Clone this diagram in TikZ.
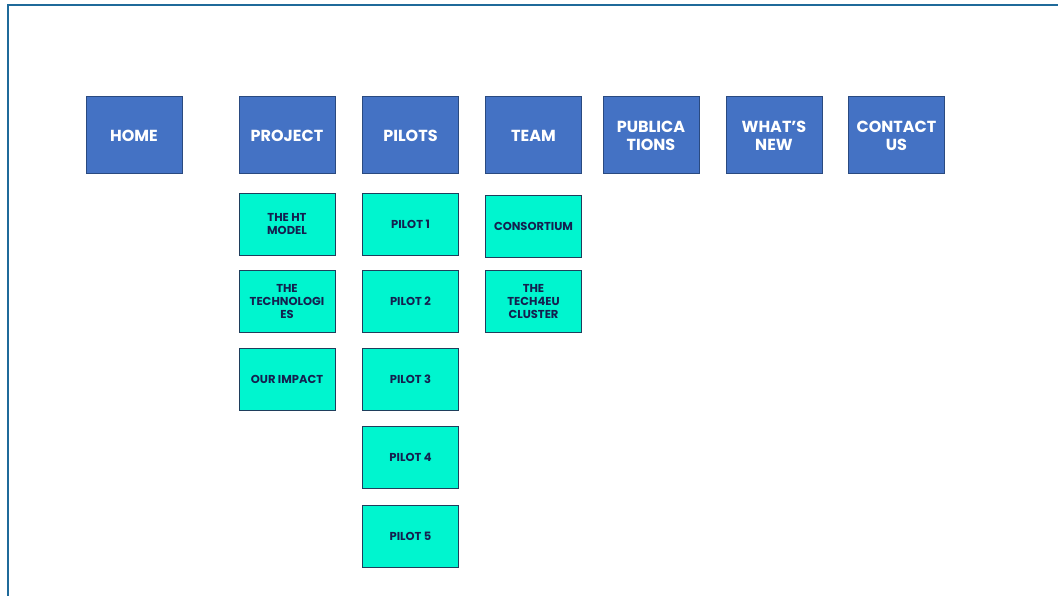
\documentclass[tikz,border=0pt]{standalone}
\usepackage{fontspec}
\setmainfont{Poppins}
\definecolor{menublue}{HTML}{4472C4}
\definecolor{menuedge}{HTML}{2A4A80}
\definecolor{subgreen}{HTML}{00F5CF}
\definecolor{subedge}{HTML}{1F3E5C}
\definecolor{subtext}{HTML}{14204F}
\definecolor{frameblue}{HTML}{1F6A9A}
\begin{document}
\begin{tikzpicture}[x=1pt,y=-1pt,
 menu/.style={draw=menuedge,fill=menublue,line width=1pt,minimum width=96pt,minimum height=77pt,
  inner sep=0pt,align=center,text=white,font=\fontsize{16}{18}\selectfont\bfseries},
 sub/.style={draw=subedge,fill=subgreen,line width=0.9pt,minimum width=96pt,minimum height=62pt,
  inner sep=0pt,align=center,text=subtext,font=\fontsize{11.5}{13}\selectfont\bfseries}]
 \useasboundingbox (0,0) rectangle (1058,596);
 \draw[frameblue,line width=2pt] (1070,5)--(8,5)--(8,610);
 % top menu
 \foreach \x/\lab/\nm in {134/HOME/home, 287/PROJECT/project, 410.5/PILOTS/pilots, 533.5/TEAM/team,
  651/PUBLICA\\TIONS/publ, 774/WHAT’S\\NEW/news, 896.5/CONTACT\\US/contact}
 \node[menu] (\nm) at (\x,135.5) {\lab};
 % project pages
 \foreach \y/\lab/\i in {224/THE HT\\MODEL/1, 301.5/THE\\TECHNOLOGI\\ES/2, 379.5/OUR IMPACT/3}
 \node[sub] (proj\i) at (287,\y) {\lab};
 % pilots
 \foreach \y/\i in {224/1, 301.5/2, 379.5/3, 457.5/4, 536.5/5}
 \node[sub] (pilot\i) at (410.5,\y) {PILOT \i};
 % team pages
 \node[sub] (team1) at (533.5,226) {CONSORTIUM};
 \node[sub] (team2) at (533.5,301.5) {THE\\TECH4EU\\CLUSTER};
\end{tikzpicture}
\end{document}
